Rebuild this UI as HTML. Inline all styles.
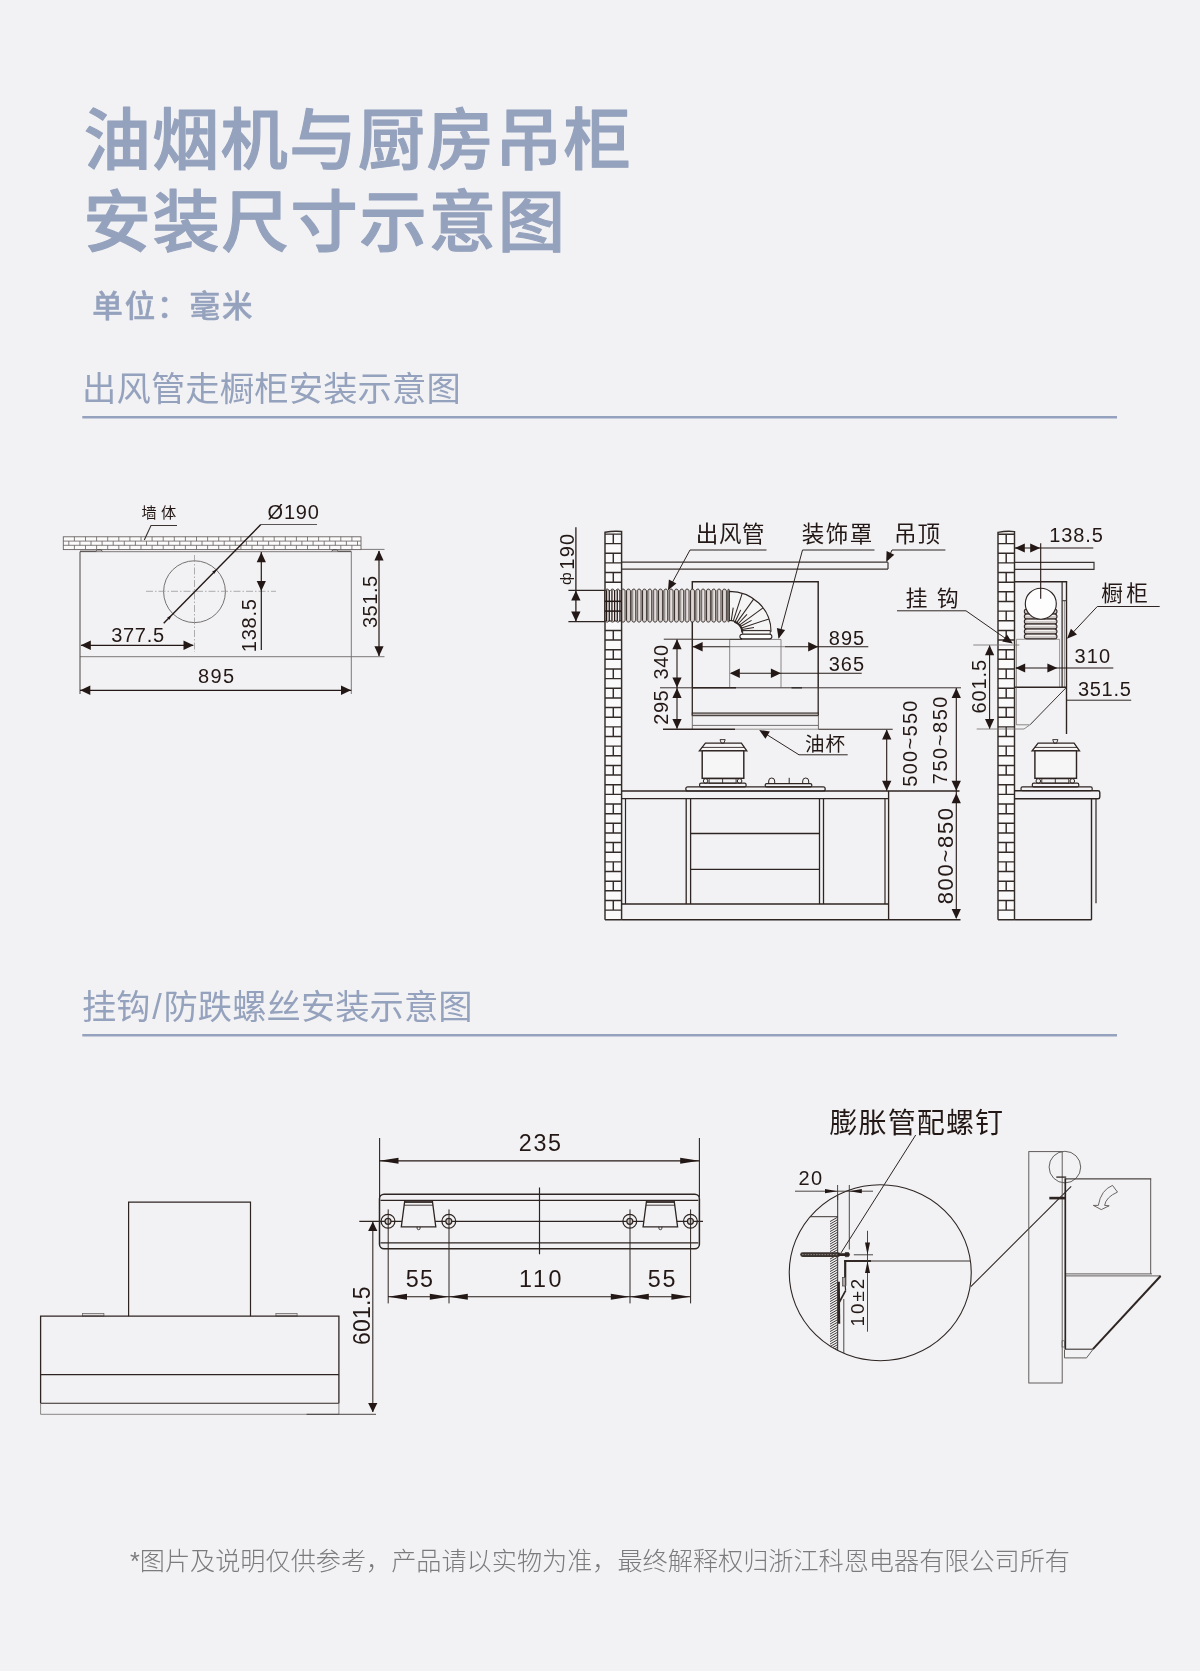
<!DOCTYPE html>
<html lang="zh-CN"><head><meta charset="utf-8"><title>油烟机与厨房吊柜安装尺寸示意图</title>
<style>
html,body{margin:0;padding:0;background:#f2f2f4;}
body{width:1200px;height:1671px;overflow:hidden;font-family:'Liberation Sans','Noto Sans CJK SC',sans-serif;}
svg{display:block;position:absolute;left:0;top:0;will-change:transform}
svg text{font-family:'Liberation Sans','Noto Sans CJK SC',sans-serif;}
</style></head><body>
<svg width="1200" height="1671" viewBox="0 0 1200 1671">
<rect x="0" y="0" width="1200" height="1671" fill="#f2f2f4"/>
<text x="83.4" y="163.7" font-size="67.3" text-anchor="start" fill="#95a2bd" font-weight="500" letter-spacing="1.3" stroke="#95a2bd" stroke-width="1.1" stroke-linejoin="round">油烟机与厨房吊柜</text>
<text x="83.4" y="246.3" font-size="67.3" text-anchor="start" fill="#95a2bd" font-weight="500" letter-spacing="1.75" stroke="#95a2bd" stroke-width="1.1" stroke-linejoin="round">安装尺寸示意图</text>
<text x="92.3" y="317.3" font-size="30.5" text-anchor="start" fill="#95a2bd" font-weight="500" letter-spacing="1.9" stroke="#95a2bd" stroke-width="0.5" stroke-linejoin="round">单位：毫米</text>
<text x="82.0" y="400.6" font-size="34.3" text-anchor="start" fill="#95a2bd" font-weight="400" letter-spacing="0.15">出风管走橱柜安装示意图</text>
<line x1="82.3" y1="417.2" x2="1117.0" y2="417.2" stroke="#95a2bd" stroke-width="2.5" />
<text x="82.0" y="1019.4" font-size="34.3" text-anchor="start" fill="#95a2bd" font-weight="400" letter-spacing="0.05">挂钩<tspan dx="1.6">/</tspan><tspan dx="1.6">防跌螺丝安装示意图</tspan></text>
<line x1="82.3" y1="1035.2" x2="1117.0" y2="1035.2" stroke="#95a2bd" stroke-width="2.5" />
<text x="600.0" y="1570.0" font-size="25.15" text-anchor="middle" fill="#7b7b7d" font-weight="300">*图片及说明仅供参考，产品请以实物为准，最终解释权归浙江科恩电器有限公司所有</text>
<rect x="63.3" y="536.8" width="297.7" height="12.8" rx="0" fill="#fbfbfb" stroke="#66605e" stroke-width="0.9"/>
<line x1="63.3" y1="541.1" x2="361.0" y2="541.1" stroke="#66605e" stroke-width="0.8" />
<line x1="63.3" y1="545.3" x2="361.0" y2="545.3" stroke="#66605e" stroke-width="0.8" />
<path d="M74.4 536.8v4.27M74.4 545.3v4.27M85.5 536.8v4.27M85.5 545.3v4.27M96.6 536.8v4.27M96.6 545.3v4.27M107.7 536.8v4.27M107.7 545.3v4.27M118.8 536.8v4.27M118.8 545.3v4.27M129.9 536.8v4.27M129.9 545.3v4.27M141.0 536.8v4.27M141.0 545.3v4.27M152.1 536.8v4.27M152.1 545.3v4.27M163.2 536.8v4.27M163.2 545.3v4.27M174.3 536.8v4.27M174.3 545.3v4.27M185.4 536.8v4.27M185.4 545.3v4.27M196.5 536.8v4.27M196.5 545.3v4.27M207.6 536.8v4.27M207.6 545.3v4.27M218.7 536.8v4.27M218.7 545.3v4.27M229.8 536.8v4.27M229.8 545.3v4.27M240.9 536.8v4.27M240.9 545.3v4.27M252.0 536.8v4.27M252.0 545.3v4.27M263.1 536.8v4.27M263.1 545.3v4.27M274.2 536.8v4.27M274.2 545.3v4.27M285.3 536.8v4.27M285.3 545.3v4.27M296.4 536.8v4.27M296.4 545.3v4.27M307.5 536.8v4.27M307.5 545.3v4.27M318.6 536.8v4.27M318.6 545.3v4.27M329.7 536.8v4.27M329.7 545.3v4.27M340.8 536.8v4.27M340.8 545.3v4.27M351.9 536.8v4.27M351.9 545.3v4.27M68.8 541.1v4.27M79.9 541.1v4.27M91.0 541.1v4.27M102.1 541.1v4.27M113.2 541.1v4.27M124.3 541.1v4.27M135.4 541.1v4.27M146.5 541.1v4.27M157.6 541.1v4.27M168.7 541.1v4.27M179.8 541.1v4.27M190.9 541.1v4.27M202.0 541.1v4.27M213.1 541.1v4.27M224.2 541.1v4.27M235.3 541.1v4.27M246.4 541.1v4.27M257.5 541.1v4.27M268.6 541.1v4.27M279.7 541.1v4.27M290.8 541.1v4.27M301.9 541.1v4.27M313.1 541.1v4.27M324.2 541.1v4.27M335.3 541.1v4.27M346.4 541.1v4.27M357.5 541.1v4.27" fill="none" stroke="#66605e" stroke-width="0.8" />
<text x="141.6" y="517.9" font-size="15.2" text-anchor="start" fill="#231815" font-weight="400" letter-spacing="4.2">墙体</text>
<path d="M177.0 525.5 L151.0 525.5 L144.3 540.0" fill="none" stroke="#3a3330" stroke-width="1.1" />
<line x1="80.0" y1="551.7" x2="351.3" y2="551.7" stroke="#6e6a69" stroke-width="0.9" />
<line x1="80.0" y1="656.7" x2="351.3" y2="656.7" stroke="#6e6a69" stroke-width="0.9" />
<line x1="80.0" y1="551.7" x2="80.0" y2="694.0" stroke="#4a4442" stroke-width="1.0" />
<line x1="351.3" y1="551.7" x2="351.3" y2="694.0" stroke="#6e6a69" stroke-width="0.9" />
<path d="M80.0 551.2 L96.0 551.2 L97.5 549.9 L101.0 549.9 L102.5 551.2" fill="none" stroke="#4a4442" stroke-width="1.0" />
<path d="M351.3 551.2 L338.0 551.2 L336.5 549.9 L333.0 549.9 L331.5 551.2" fill="none" stroke="#4a4442" stroke-width="1.0" />
<circle cx="194.5" cy="591.7" r="30.9" fill="none" stroke="#6e6a69" stroke-width="0.95"/>
<line x1="146.0" y1="591.3" x2="276.0" y2="591.3" stroke="#918d8c" stroke-width="0.7" stroke-dasharray="7 2 1.5 2"/>
<line x1="194.5" y1="555.0" x2="194.5" y2="652.0" stroke="#918d8c" stroke-width="0.7" stroke-dasharray="7 2 1.5 2"/>
<line x1="260.8" y1="524.5" x2="163.7" y2="623.2" stroke="#231815" stroke-width="1.4" />
<line x1="260.8" y1="524.5" x2="317.0" y2="524.5" stroke="#4a4442" stroke-width="0.9" />
<polygon points="216.6,569.4 214.5,573.8 212.2,571.5" fill="#231815"/>
<polygon points="171.6,615.3 169.5,619.7 167.2,617.4" fill="#231815"/>
<text x="267.6" y="519.2" font-size="20" text-anchor="start" fill="#231815" font-weight="400" letter-spacing="0.75">Ø190</text>
<line x1="261.3" y1="552.0" x2="261.3" y2="650.0" stroke="#231815" stroke-width="1.2" />
<polygon points="261.3,552.2 256.7,562.2 265.9,562.2" fill="#231815"/>
<polygon points="261.3,591.0 256.7,581.0 265.9,581.0" fill="#231815"/>
<text x="255.6" y="652.2" font-size="20" text-anchor="start" fill="#231815" font-weight="400" letter-spacing="0.75" transform="rotate(-90 255.6 652.2)">138.5</text>
<line x1="361.0" y1="549.4" x2="384.5" y2="549.4" stroke="#6e6a69" stroke-width="0.9" />
<line x1="351.3" y1="656.7" x2="384.5" y2="656.7" stroke="#6e6a69" stroke-width="0.9" />
<line x1="379.0" y1="551.0" x2="379.0" y2="656.0" stroke="#231815" stroke-width="1.2" />
<polygon points="379.0,550.6 374.4,560.6 383.6,560.6" fill="#231815"/>
<polygon points="379.0,656.3 374.4,646.3 383.6,646.3" fill="#231815"/>
<text x="376.7" y="628.1" font-size="20" text-anchor="start" fill="#231815" font-weight="400" letter-spacing="0.54" transform="rotate(-90 376.7 628.1)">351.5</text>
<line x1="81.0" y1="645.3" x2="193.3" y2="645.3" stroke="#231815" stroke-width="1.2" />
<polygon points="80.8,645.3 90.8,640.6 90.8,649.9" fill="#231815"/>
<polygon points="193.5,645.3 183.5,640.6 183.5,649.9" fill="#231815"/>
<text x="111.2" y="641.7" font-size="20" text-anchor="start" fill="#231815" font-weight="400" letter-spacing="0.71">377.5</text>
<line x1="80.0" y1="690.3" x2="351.3" y2="690.3" stroke="#231815" stroke-width="1.2" />
<polygon points="80.3,690.3 90.3,685.6 90.3,694.9" fill="#231815"/>
<polygon points="351.0,690.3 341.0,685.6 341.0,694.9" fill="#231815"/>
<text x="198.1" y="682.7" font-size="20" text-anchor="start" fill="#231815" font-weight="400" letter-spacing="1.27">895</text>
<rect x="605.0" y="531.5" width="16.6" height="388.2" fill="#fafafa" stroke="none"/>
<path d="M605.0 919.8V532.3Q613.3 530.7 621.6 531.5V919.8M605.0 534.1H621.6M605.0 543.60H621.6M605.0 553.25H621.6M605.0 562.89H621.6M605.0 572.53H621.6M605.0 582.18H621.6M605.0 591.82H621.6M605.0 601.47H621.6M605.0 611.11H621.6M605.0 620.76H621.6M605.0 630.40H621.6M605.0 640.05H621.6M605.0 649.69H621.6M605.0 659.34H621.6M605.0 668.98H621.6M605.0 678.63H621.6M605.0 688.27H621.6M605.0 697.92H621.6M605.0 707.56H621.6M605.0 717.21H621.6M605.0 726.85H621.6M605.0 736.50H621.6M605.0 746.14H621.6M605.0 755.79H621.6M605.0 765.43H621.6M605.0 775.08H621.6M605.0 784.72H621.6M605.0 794.37H621.6M605.0 804.01H621.6M605.0 813.66H621.6M605.0 823.30H621.6M605.0 832.95H621.6M605.0 842.59H621.6M605.0 852.24H621.6M605.0 861.88H621.6M605.0 871.53H621.6M605.0 881.17H621.6M605.0 890.82H621.6M605.0 900.46H621.6M605.0 910.11H621.6M613.3 534.1V543.60M613.3 553.25V562.89M613.3 572.53V582.18M613.3 591.82V601.47M613.3 611.11V620.76M613.3 630.40V640.05M613.3 649.69V659.34M613.3 668.98V678.63M613.3 688.27V697.92M613.3 707.56V717.21M613.3 726.85V736.50M613.3 746.14V755.79M613.3 765.43V775.08M613.3 784.72V794.37M613.3 804.01V813.66M613.3 823.30V832.95M613.3 842.59V852.24M613.3 861.88V871.53M613.3 881.17V890.82M613.3 900.46V910.11M605.0 919.8H621.6" fill="none" stroke="#332b28" stroke-width="1.45" />
<line x1="621.6" y1="562.2" x2="888.0" y2="562.2" stroke="#3a3330" stroke-width="1.2" />
<line x1="621.6" y1="569.1" x2="888.0" y2="569.1" stroke="#3a3330" stroke-width="1.2" />
<line x1="888.0" y1="562.2" x2="888.0" y2="569.1" stroke="#3a3330" stroke-width="1.2" />
<path d="M692.3 687.8 L692.3 581.8 L818.2 581.8 L818.2 687.8" fill="none" stroke="#2e2522" stroke-width="1.45" />
<path d="M729.7 687.5 L729.7 639.4 L781.0 639.4 L781.0 687.5" fill="none" stroke="#6e6a69" stroke-width="0.8" />
<line x1="692.3" y1="639.3" x2="742.0" y2="639.3" stroke="#3a3330" stroke-width="1.0" />
<rect x="605.0" y="590.9" width="124.3" height="29.4" fill="#fbfbfb" stroke="none"/>
<path d="M605.20 620.3V590.9C605.50 588.5 608.80 588.5 609.10 590.9V620.3C608.80 622.7 605.50 622.7 605.20 620.3ZM610.53 620.3V590.9C610.83 588.5 614.13 588.5 614.43 590.9V620.3C614.13 622.7 610.83 622.7 610.53 620.3ZM615.86 620.3V590.9C616.16 588.5 619.46 588.5 619.76 590.9V620.3C619.46 622.7 616.16 622.7 615.86 620.3ZM621.19 620.3V590.9C621.49 588.5 624.79 588.5 625.09 590.9V620.3C624.79 622.7 621.49 622.7 621.19 620.3ZM626.52 620.3V590.9C626.82 588.5 630.12 588.5 630.42 590.9V620.3C630.12 622.7 626.82 622.7 626.52 620.3ZM631.85 620.3V590.9C632.15 588.5 635.45 588.5 635.75 590.9V620.3C635.45 622.7 632.15 622.7 631.85 620.3ZM637.18 620.3V590.9C637.48 588.5 640.78 588.5 641.08 590.9V620.3C640.78 622.7 637.48 622.7 637.18 620.3ZM642.51 620.3V590.9C642.81 588.5 646.11 588.5 646.41 590.9V620.3C646.11 622.7 642.81 622.7 642.51 620.3ZM647.84 620.3V590.9C648.14 588.5 651.44 588.5 651.74 590.9V620.3C651.44 622.7 648.14 622.7 647.84 620.3ZM653.17 620.3V590.9C653.47 588.5 656.77 588.5 657.07 590.9V620.3C656.77 622.7 653.47 622.7 653.17 620.3ZM658.50 620.3V590.9C658.80 588.5 662.10 588.5 662.40 590.9V620.3C662.10 622.7 658.80 622.7 658.50 620.3ZM663.83 620.3V590.9C664.13 588.5 667.43 588.5 667.73 590.9V620.3C667.43 622.7 664.13 622.7 663.83 620.3ZM669.16 620.3V590.9C669.46 588.5 672.76 588.5 673.06 590.9V620.3C672.76 622.7 669.46 622.7 669.16 620.3ZM674.49 620.3V590.9C674.79 588.5 678.09 588.5 678.39 590.9V620.3C678.09 622.7 674.79 622.7 674.49 620.3ZM679.82 620.3V590.9C680.12 588.5 683.42 588.5 683.72 590.9V620.3C683.42 622.7 680.12 622.7 679.82 620.3ZM685.15 620.3V590.9C685.45 588.5 688.75 588.5 689.05 590.9V620.3C688.75 622.7 685.45 622.7 685.15 620.3ZM690.48 620.3V590.9C690.78 588.5 694.08 588.5 694.38 590.9V620.3C694.08 622.7 690.78 622.7 690.48 620.3ZM695.81 620.3V590.9C696.11 588.5 699.41 588.5 699.71 590.9V620.3C699.41 622.7 696.11 622.7 695.81 620.3ZM701.14 620.3V590.9C701.44 588.5 704.74 588.5 705.04 590.9V620.3C704.74 622.7 701.44 622.7 701.14 620.3ZM706.47 620.3V590.9C706.77 588.5 710.07 588.5 710.37 590.9V620.3C710.07 622.7 706.77 622.7 706.47 620.3ZM711.80 620.3V590.9C712.10 588.5 715.40 588.5 715.70 590.9V620.3C715.40 622.7 712.10 622.7 711.80 620.3ZM717.13 620.3V590.9C717.43 588.5 720.73 588.5 721.03 590.9V620.3C720.73 622.7 717.43 622.7 717.13 620.3ZM722.46 620.3V590.9C722.76 588.5 726.06 588.5 726.36 590.9V620.3C726.06 622.7 722.76 622.7 722.46 620.3ZM727.79 620.3V590.9C728.09 588.5 729.00 588.5 729.30 590.9V620.3C729.00 622.7 728.09 622.7 727.79 620.3Z" fill="#cdc6c4" stroke="#332a27" stroke-width="0.95" />
<path d="M607.75 590.7V620.5M613.08 590.7V620.5M618.41 590.7V620.5M623.74 590.7V620.5M629.07 590.7V620.5M634.40 590.7V620.5M639.73 590.7V620.5M645.06 590.7V620.5M650.39 590.7V620.5M655.72 590.7V620.5M661.05 590.7V620.5M666.38 590.7V620.5M671.71 590.7V620.5M677.04 590.7V620.5M682.37 590.7V620.5M687.70 590.7V620.5M693.03 590.7V620.5M698.36 590.7V620.5M703.69 590.7V620.5M709.02 590.7V620.5M714.35 590.7V620.5M719.68 590.7V620.5M725.01 590.7V620.5M730.34 590.7V620.5" fill="none" stroke="#f4f2f2" stroke-width="0.75" />
<rect x="605.0" y="590.9" width="16.6" height="29.4" fill="#f3f1f1" stroke="none"/>
<path d="M606.60 590.3V620.9M609.27 590.3V620.9M611.94 590.3V620.9M614.61 590.3V620.9M617.28 590.3V620.9M619.95 590.3V620.9" fill="none" stroke="#231815" stroke-width="1.25" />
<line x1="605.0" y1="601.3" x2="621.6" y2="601.3" stroke="#231815" stroke-width="1.5" />
<line x1="605.0" y1="611.1" x2="621.6" y2="611.1" stroke="#231815" stroke-width="1.5" />
<line x1="605.0" y1="589.9" x2="605.0" y2="621.3" stroke="#2e2522" stroke-width="1.3" />
<line x1="621.6" y1="589.9" x2="621.6" y2="621.3" stroke="#2e2522" stroke-width="1.3" />
<path d="M729.3 591.3A41.7 40.0 0 0 1 771.0 631.3L742.3 632.3A13.0 12.0 0 0 0 729.3 620.3Z" fill="#f6f5f5" stroke="#2e2522" stroke-width="1.15"/>
<path d="M742.3 632.3A13.0 12.0 0 0 0 734.3 621.6" fill="none" stroke="#2e2522" stroke-width="1.9"/>
<line x1="742.1" y1="629.6" x2="754.0" y2="627.5" stroke="#2e2522" stroke-width="1.05" />
<line x1="741.7" y1="627.9" x2="769.0" y2="618.9" stroke="#2e2522" stroke-width="1.05" />
<line x1="740.9" y1="626.3" x2="751.6" y2="620.4" stroke="#2e2522" stroke-width="1.05" />
<line x1="739.8" y1="624.8" x2="763.0" y2="607.8" stroke="#2e2522" stroke-width="1.05" />
<line x1="738.5" y1="623.5" x2="747.0" y2="614.3" stroke="#2e2522" stroke-width="1.05" />
<line x1="736.9" y1="622.4" x2="753.8" y2="598.9" stroke="#2e2522" stroke-width="1.05" />
<line x1="735.2" y1="621.5" x2="740.7" y2="609.9" stroke="#2e2522" stroke-width="1.05" />
<line x1="733.3" y1="620.8" x2="742.2" y2="593.3" stroke="#2e2522" stroke-width="1.05" />
<line x1="731.3" y1="620.4" x2="733.2" y2="607.6" stroke="#2e2522" stroke-width="1.05" />
<line x1="742.7" y1="630.7" x2="770.2" y2="630.7" stroke="#2e2522" stroke-width="1.5" />
<rect x="742.7" y="630.7" width="27.5" height="3.5" rx="0" fill="#fbfbfb" stroke="#2e2522" stroke-width="0.9"/>
<rect x="739.9" y="634.2" width="32.0" height="4.7" rx="2.4" fill="#fdfdfd" stroke="#2e2522" stroke-width="1.1"/>
<line x1="660.0" y1="687.8" x2="961.0" y2="687.8" stroke="#3a3330" stroke-width="1.0" />
<line x1="692.3" y1="687.8" x2="736.0" y2="687.8" stroke="#2e2522" stroke-width="1.5" />
<line x1="791.5" y1="687.8" x2="802.0" y2="687.8" stroke="#2e2522" stroke-width="1.3" />
<line x1="692.3" y1="687.8" x2="692.3" y2="715.5" stroke="#2e2522" stroke-width="1.3" />
<line x1="818.2" y1="687.8" x2="818.2" y2="715.5" stroke="#2e2522" stroke-width="1.3" />
<rect x="692.3" y="713.0" width="125.9" height="2.7" rx="0" fill="#b4afad" stroke="#2e2522" stroke-width="1.0"/>
<line x1="692.3" y1="715.6" x2="692.3" y2="729.0" stroke="#6b6665" stroke-width="0.95" />
<line x1="818.4" y1="715.6" x2="818.4" y2="729.0" stroke="#6b6665" stroke-width="0.95" />
<line x1="692.3" y1="725.4" x2="818.4" y2="725.4" stroke="#6b6665" stroke-width="0.95" />
<line x1="735.0" y1="729.2" x2="818.4" y2="729.2" stroke="#8c8887" stroke-width="0.9" />
<line x1="818.4" y1="729.2" x2="892.7" y2="729.2" stroke="#2e2522" stroke-width="1.05" />
<line x1="663.0" y1="729.2" x2="735.0" y2="729.2" stroke="#2e2522" stroke-width="1.5" />
<line x1="692.5" y1="646.7" x2="729.7" y2="646.7" stroke="#231815" stroke-width="1.1" />
<line x1="729.7" y1="646.7" x2="785.0" y2="646.7" stroke="#6e6a69" stroke-width="0.8" />
<line x1="785.0" y1="646.7" x2="868.3" y2="646.7" stroke="#231815" stroke-width="1.1" />
<polygon points="692.6,646.7 702.6,642.1 702.6,651.4" fill="#231815"/>
<polygon points="818.2,646.7 808.2,642.1 808.2,651.4" fill="#231815"/>
<text x="828.8" y="644.5" font-size="20" text-anchor="start" fill="#231815" font-weight="400" letter-spacing="0.97">895</text>
<line x1="731.0" y1="673.3" x2="861.7" y2="673.3" stroke="#231815" stroke-width="1.1" />
<polygon points="729.8,673.3 739.8,668.6 739.8,677.9" fill="#231815"/>
<polygon points="780.9,673.3 770.9,668.6 770.9,677.9" fill="#231815"/>
<text x="828.8" y="671.3" font-size="20" text-anchor="start" fill="#231815" font-weight="400" letter-spacing="0.92">365</text>
<text x="571.2" y="584.9" font-size="15.5" text-anchor="start" fill="#231815" font-weight="400" transform="rotate(-90 571.2 584.9)">ф</text>
<text x="573.7" y="569.7" font-size="20" text-anchor="start" fill="#231815" font-weight="400" letter-spacing="1.22" transform="rotate(-90 573.7 569.7)">190</text>
<line x1="575.9" y1="527.2" x2="575.9" y2="621.5" stroke="#231815" stroke-width="1.25" />
<line x1="568.4" y1="590.3" x2="605.0" y2="590.3" stroke="#2e2522" stroke-width="1.3" />
<line x1="568.4" y1="621.6" x2="605.0" y2="621.6" stroke="#2e2522" stroke-width="1.3" />
<polygon points="575.9,590.4 571.2,600.4 580.5,600.4" fill="#231815"/>
<polygon points="575.9,621.4 571.2,611.4 580.5,611.4" fill="#231815"/>
<line x1="663.8" y1="639.2" x2="692.3" y2="639.2" stroke="#3a3330" stroke-width="1.0" />
<line x1="677.0" y1="639.5" x2="677.0" y2="728.5" stroke="#231815" stroke-width="1.1" />
<polygon points="677.0,639.3 672.4,649.3 681.6,649.3" fill="#231815"/>
<polygon points="677.0,687.5 672.4,677.5 681.6,677.5" fill="#231815"/>
<polygon points="677.0,688.0 672.4,698.0 681.6,698.0" fill="#231815"/>
<polygon points="677.0,728.9 672.4,718.9 681.6,718.9" fill="#231815"/>
<text x="667.8" y="679.4" font-size="20" text-anchor="start" fill="#231815" font-weight="400" letter-spacing="0.54" transform="rotate(-90 667.8 679.4)">340</text>
<text x="667.8" y="724.7" font-size="20" text-anchor="start" fill="#231815" font-weight="400" letter-spacing="0.54" transform="rotate(-90 667.8 724.7)">295</text>
<text x="695.8" y="541.8" font-size="22.5" text-anchor="start" fill="#231815" font-weight="400" letter-spacing="0.6">出风管</text>
<path d="M766.5 550.0 L690.0 550.0 L668.5 589.5" fill="none" stroke="#2e2522" stroke-width="1.0" />
<polygon points="668.0,590.3 668.9,579.5 676.4,583.4" fill="#231815"/>
<text x="801.8" y="541.8" font-size="22.5" text-anchor="start" fill="#231815" font-weight="400" letter-spacing="1.5">装饰罩</text>
<path d="M874.5 550.0 L802.5 550.0 L778.9 637.5" fill="none" stroke="#2e2522" stroke-width="1.0" />
<polygon points="778.6,638.8 776.9,628.1 785.1,630.1" fill="#231815"/>
<text x="894.0" y="541.8" font-size="22.5" text-anchor="start" fill="#231815" font-weight="400" letter-spacing="0.9">吊顶</text>
<path d="M945.4 550.0 L892.0 550.0 L887.5 560.0" fill="none" stroke="#2e2522" stroke-width="1.0" />
<polygon points="886.2,561.9 886.6,551.0 894.3,554.7" fill="#231815"/>
<text x="804.9" y="751.2" font-size="19.5" text-anchor="start" fill="#231815" font-weight="400" letter-spacing="1.2">油杯</text>
<path d="M847.7 754.8 L799.0 754.8 L762.0 731.6" fill="none" stroke="#2e2522" stroke-width="1.0" />
<polygon points="759.2,729.9 769.9,731.6 765.4,738.8" fill="#231815"/>
<path d="M705.4 743.2 L741.4 743.2 L746.8 750.8 L699.4 750.8 Z" fill="#f7f6f6" stroke="#2e2522" stroke-width="1.3" />
<line x1="701.8" y1="747.4" x2="744.4" y2="747.4" stroke="#2e2522" stroke-width="0.9" />
<path d="M720.0 739.6 L725.2 739.6 L723.9 743.2 L721.3 743.2 Z" fill="none" stroke="#2e2522" stroke-width="0.9" />
<rect x="702.2" y="750.8" width="41.6" height="27.5" rx="0" fill="#f7f6f6" stroke="#2e2522" stroke-width="1.45"/>
<circle cx="705.6" cy="781.0" r="2.3" fill="none" stroke="#2e2522" stroke-width="1.0"/>
<circle cx="739.6" cy="781.0" r="2.3" fill="none" stroke="#2e2522" stroke-width="1.0"/>
<rect x="709.1" y="778.8" width="27.0" height="4.4" rx="0" fill="none" stroke="#2e2522" stroke-width="0.9"/>
<line x1="722.6" y1="778.8" x2="722.6" y2="783.2" stroke="#2e2522" stroke-width="0.9" />
<rect x="699.6" y="783.2" width="46.5" height="3.7" rx="1.5" fill="none" stroke="#2e2522" stroke-width="1.2"/>
<rect x="765.2" y="783.6" width="46.6" height="3.3" rx="1.5" fill="none" stroke="#2e2522" stroke-width="1.2"/>
<path d="M768.7 783.6v-2.6a3 3 0 0 1 6 0v2.6" fill="none" stroke="#2e2522" stroke-width="1.0" />
<path d="M802.7 783.6v-2.6a3 3 0 0 1 6 0v2.6" fill="none" stroke="#2e2522" stroke-width="1.0" />
<line x1="789.2" y1="777.8" x2="789.2" y2="783.6" stroke="#2e2522" stroke-width="1.0" />
<rect x="685.8" y="786.9" width="139.4" height="4.1" rx="2" fill="none" stroke="#2e2522" stroke-width="1.2"/>
<line x1="621.6" y1="791.0" x2="959.5" y2="791.0" stroke="#2e2522" stroke-width="1.35" />
<line x1="621.6" y1="798.6" x2="888.5" y2="798.6" stroke="#2e2522" stroke-width="1.45" />
<line x1="888.6" y1="791.0" x2="888.6" y2="919.8" stroke="#2e2522" stroke-width="1.35" />
<line x1="885.0" y1="798.6" x2="885.0" y2="904.0" stroke="#2e2522" stroke-width="1.2" />
<line x1="625.5" y1="798.6" x2="625.5" y2="904.0" stroke="#2e2522" stroke-width="1.2" />
<line x1="686.2" y1="798.6" x2="686.2" y2="904.0" stroke="#2e2522" stroke-width="1.3" />
<line x1="690.6" y1="798.6" x2="690.6" y2="904.0" stroke="#2e2522" stroke-width="1.3" />
<line x1="819.5" y1="798.6" x2="819.5" y2="904.0" stroke="#2e2522" stroke-width="1.3" />
<line x1="823.5" y1="798.6" x2="823.5" y2="904.0" stroke="#2e2522" stroke-width="1.3" />
<line x1="690.6" y1="833.5" x2="819.5" y2="833.5" stroke="#2e2522" stroke-width="1.3" />
<line x1="690.6" y1="869.4" x2="819.5" y2="869.4" stroke="#2e2522" stroke-width="1.3" />
<line x1="621.6" y1="904.0" x2="888.6" y2="904.0" stroke="#2e2522" stroke-width="1.45" />
<line x1="621.6" y1="919.8" x2="960.5" y2="919.8" stroke="#2e2522" stroke-width="1.45" />
<line x1="886.7" y1="730.0" x2="886.7" y2="790.5" stroke="#231815" stroke-width="1.1" />
<polygon points="886.7,729.5 882.1,739.5 891.4,739.5" fill="#231815"/>
<polygon points="886.7,790.7 882.1,780.7 891.4,780.7" fill="#231815"/>
<text x="917.3" y="786.8" font-size="20" text-anchor="start" fill="#231815" font-weight="400" letter-spacing="1.31" transform="rotate(-90 917.3 786.8)">500~550</text>
<line x1="956.3" y1="688.0" x2="956.3" y2="918.0" stroke="#231815" stroke-width="1.1" />
<polygon points="956.3,688.0 951.6,698.0 960.9,698.0" fill="#231815"/>
<polygon points="956.3,790.8 951.6,780.8 960.9,780.8" fill="#231815"/>
<polygon points="956.3,793.2 951.6,803.2 960.9,803.2" fill="#231815"/>
<polygon points="956.3,919.0 951.6,909.0 960.9,909.0" fill="#231815"/>
<text x="947.3" y="784.3" font-size="20" text-anchor="start" fill="#231815" font-weight="400" letter-spacing="1.56" transform="rotate(-90 947.3 784.3)">750~850</text>
<text x="953.3" y="904.3" font-size="22" text-anchor="start" fill="#231815" font-weight="400" letter-spacing="1.69" transform="rotate(-90 953.3 904.3)">800~850</text>
<rect x="998.0" y="531.6" width="16.5" height="388.1" fill="#fafafa" stroke="none"/>
<path d="M998.0 919.8V532.4Q1006.2 530.8 1014.5 531.6V919.8M998.0 534.2H1014.5M998.0 543.60H1014.5M998.0 553.25H1014.5M998.0 562.89H1014.5M998.0 572.53H1014.5M998.0 582.18H1014.5M998.0 591.82H1014.5M998.0 601.47H1014.5M998.0 611.11H1014.5M998.0 620.76H1014.5M998.0 630.40H1014.5M998.0 640.05H1014.5M998.0 649.69H1014.5M998.0 659.34H1014.5M998.0 668.98H1014.5M998.0 678.63H1014.5M998.0 688.27H1014.5M998.0 697.92H1014.5M998.0 707.56H1014.5M998.0 717.21H1014.5M998.0 726.85H1014.5M998.0 736.50H1014.5M998.0 746.14H1014.5M998.0 755.79H1014.5M998.0 765.43H1014.5M998.0 775.08H1014.5M998.0 784.72H1014.5M998.0 794.37H1014.5M998.0 804.01H1014.5M998.0 813.66H1014.5M998.0 823.30H1014.5M998.0 832.95H1014.5M998.0 842.59H1014.5M998.0 852.24H1014.5M998.0 861.88H1014.5M998.0 871.53H1014.5M998.0 881.17H1014.5M998.0 890.82H1014.5M998.0 900.46H1014.5M998.0 910.11H1014.5M1006.2 534.2V543.60M1006.2 553.25V562.89M1006.2 572.53V582.18M1006.2 591.82V601.47M1006.2 611.11V620.76M1006.2 630.40V640.05M1006.2 649.69V659.34M1006.2 668.98V678.63M1006.2 688.27V697.92M1006.2 707.56V717.21M1006.2 726.85V736.50M1006.2 746.14V755.79M1006.2 765.43V775.08M1006.2 784.72V794.37M1006.2 804.01V813.66M1006.2 823.30V832.95M1006.2 842.59V852.24M1006.2 861.88V871.53M1006.2 881.17V890.82M1006.2 900.46V910.11M998.0 919.8H1014.5" fill="none" stroke="#332b28" stroke-width="1.45" />
<path d="M1014.5 562.4 L1094.0 562.4 L1094.0 569.3 L1014.5 569.3" fill="none" stroke="#3a3330" stroke-width="1.2" />
<line x1="1014.5" y1="581.7" x2="1067.2" y2="581.7" stroke="#2e2522" stroke-width="1.5" />
<line x1="1066.5" y1="581.7" x2="1066.5" y2="734.0" stroke="#2e2522" stroke-width="1.4" />
<line x1="1062.1" y1="581.7" x2="1062.1" y2="687.3" stroke="#2e2522" stroke-width="1.2" />
<line x1="1064.4" y1="600.7" x2="1064.4" y2="687.3" stroke="#6e6a69" stroke-width="0.7" />
<line x1="1062.1" y1="600.7" x2="1066.5" y2="600.7" stroke="#3a3330" stroke-width="1.0" />
<rect x="1024.3" y="609.0" width="32.7" height="5.0" rx="2.5" fill="#cdc7c5" stroke="#2e2522" stroke-width="1.05"/>
<line x1="1026.4" y1="610.6" x2="1055.0" y2="610.6" stroke="#f7f6f6" stroke-width="1.1" />
<rect x="1024.3" y="614.0" width="32.7" height="5.0" rx="2.5" fill="#cdc7c5" stroke="#2e2522" stroke-width="1.05"/>
<line x1="1026.4" y1="615.6" x2="1055.0" y2="615.6" stroke="#f7f6f6" stroke-width="1.1" />
<rect x="1024.3" y="619.0" width="32.7" height="5.0" rx="2.5" fill="#cdc7c5" stroke="#2e2522" stroke-width="1.05"/>
<line x1="1026.4" y1="620.6" x2="1055.0" y2="620.6" stroke="#f7f6f6" stroke-width="1.1" />
<rect x="1024.3" y="624.0" width="32.7" height="5.0" rx="2.5" fill="#cdc7c5" stroke="#2e2522" stroke-width="1.05"/>
<line x1="1026.4" y1="625.6" x2="1055.0" y2="625.6" stroke="#f7f6f6" stroke-width="1.1" />
<rect x="1024.3" y="629.0" width="32.7" height="5.0" rx="2.5" fill="#cdc7c5" stroke="#2e2522" stroke-width="1.05"/>
<line x1="1026.4" y1="630.6" x2="1055.0" y2="630.6" stroke="#f7f6f6" stroke-width="1.1" />
<rect x="1024.3" y="634.0" width="32.7" height="5.0" rx="2.5" fill="#cdc7c5" stroke="#2e2522" stroke-width="1.05"/>
<line x1="1026.4" y1="635.6" x2="1055.0" y2="635.6" stroke="#f7f6f6" stroke-width="1.1" />
<line x1="1026.0" y1="638.9" x2="1055.5" y2="638.9" stroke="#2e2522" stroke-width="1.1" />
<circle cx="1040.8" cy="603.7" r="15.5" fill="#fdfdfd" stroke="#2e2522" stroke-width="1.15"/>
<path d="M1016.5 687.0 L1016.5 639.3 L1059.6 639.3 L1059.6 687.0" fill="none" stroke="#8f8b8a" stroke-width="0.9" />
<line x1="1015.0" y1="548.0" x2="1093.3" y2="548.0" stroke="#231815" stroke-width="1.1" />
<polygon points="1014.8,548.0 1024.8,543.4 1024.8,552.6" fill="#231815"/>
<polygon points="1040.2,548.0 1030.2,543.4 1030.2,552.6" fill="#231815"/>
<line x1="1040.7" y1="543.3" x2="1040.7" y2="598.7" stroke="#231815" stroke-width="1.1" />
<text x="1049.3" y="542.4" font-size="20" text-anchor="start" fill="#231815" font-weight="400" letter-spacing="0.9">138.5</text>
<line x1="1014.5" y1="687.3" x2="1066.7" y2="687.3" stroke="#2e2522" stroke-width="1.4" />
<line x1="1066.3" y1="687.5" x2="1030.0" y2="724.8" stroke="#3a3330" stroke-width="1.0" />
<line x1="1016.3" y1="687.3" x2="1016.3" y2="724.8" stroke="#6e6a69" stroke-width="0.8" />
<line x1="1016.3" y1="724.8" x2="1029.0" y2="724.8" stroke="#6e6a69" stroke-width="0.8" />
<path d="M976.7 729.0 L1024.0 729.0 L1030.0 724.8" fill="none" stroke="#6e6a69" stroke-width="0.8" />
<line x1="1016.0" y1="668.0" x2="1113.3" y2="668.0" stroke="#231815" stroke-width="1.1" />
<polygon points="1015.2,668.0 1025.2,663.4 1025.2,672.6" fill="#231815"/>
<polygon points="1057.4,668.0 1047.4,663.4 1047.4,672.6" fill="#231815"/>
<text x="1074.4" y="663.2" font-size="20" text-anchor="start" fill="#231815" font-weight="400" letter-spacing="1.19">310</text>
<line x1="1066.7" y1="700.2" x2="1131.2" y2="700.2" stroke="#2e2522" stroke-width="1.0" />
<text x="1077.9" y="696.0" font-size="20" text-anchor="start" fill="#231815" font-weight="400" letter-spacing="0.71">351.5</text>
<line x1="973.3" y1="645.0" x2="1019.3" y2="645.0" stroke="#6e6a69" stroke-width="0.8" />
<line x1="989.6" y1="645.5" x2="989.6" y2="728.5" stroke="#231815" stroke-width="1.1" />
<polygon points="989.6,645.2 985.0,655.2 994.2,655.2" fill="#231815"/>
<polygon points="989.6,729.0 985.0,719.0 994.2,719.0" fill="#231815"/>
<text x="985.7" y="713.5" font-size="20" text-anchor="start" fill="#231815" font-weight="400" letter-spacing="0.9" transform="rotate(-90 985.7 713.5)">601.5</text>
<text x="905.6" y="605.5" font-size="22" text-anchor="start" fill="#231815" font-weight="400" letter-spacing="9.2">挂钩</text>
<path d="M897.0 610.8 L966.0 610.8 L1011.5 642.6" fill="none" stroke="#2e2522" stroke-width="1.0" />
<polygon points="1012.8,643.6 1002.2,641.4 1007.0,634.4" fill="#231815"/>
<text x="1101.3" y="600.9" font-size="21.6" text-anchor="start" fill="#231815" font-weight="400" letter-spacing="3.3">橱柜</text>
<path d="M1159.7 606.5 L1097.3 606.5 L1068.2 637.5" fill="none" stroke="#2e2522" stroke-width="1.0" />
<polygon points="1067.0,638.8 1070.9,628.7 1077.0,634.6" fill="#231815"/>
<path d="M1038.1 743.2 L1074.1 743.2 L1079.5 750.8 L1032.1 750.8 Z" fill="#f7f6f6" stroke="#2e2522" stroke-width="1.3" />
<line x1="1034.5" y1="747.4" x2="1077.1" y2="747.4" stroke="#2e2522" stroke-width="0.9" />
<path d="M1052.7 739.6 L1057.9 739.6 L1056.6 743.2 L1054.0 743.2 Z" fill="none" stroke="#2e2522" stroke-width="0.9" />
<rect x="1034.9" y="750.8" width="41.6" height="27.5" rx="0" fill="#f7f6f6" stroke="#2e2522" stroke-width="1.45"/>
<circle cx="1038.3" cy="781.0" r="2.3" fill="none" stroke="#2e2522" stroke-width="1.0"/>
<circle cx="1072.3" cy="781.0" r="2.3" fill="none" stroke="#2e2522" stroke-width="1.0"/>
<rect x="1041.8" y="778.8" width="27.0" height="4.4" rx="0" fill="none" stroke="#2e2522" stroke-width="0.9"/>
<line x1="1055.3" y1="778.8" x2="1055.3" y2="783.2" stroke="#2e2522" stroke-width="0.9" />
<rect x="1032.3" y="783.2" width="46.5" height="3.7" rx="1.5" fill="none" stroke="#2e2522" stroke-width="1.2"/>
<rect x="1021.0" y="786.9" width="71.2" height="3.8" rx="1.5" fill="none" stroke="#2e2522" stroke-width="1.2"/>
<path d="M1014.5 790.7H1098a1.8 1.8 0 0 1 1.8 1.8V797a1.8 1.8 0 0 1 -1.8 1.8H1014.5" fill="none" stroke="#2e2522" stroke-width="1.4" />
<line x1="1091.5" y1="798.8" x2="1091.5" y2="919.8" stroke="#2e2522" stroke-width="1.4" />
<line x1="1096.0" y1="798.8" x2="1096.0" y2="903.3" stroke="#2e2522" stroke-width="1.2" />
<line x1="1014.5" y1="919.8" x2="1091.5" y2="919.8" stroke="#2e2522" stroke-width="1.45" />
<path d="M128.6 1316.2 L128.6 1202.2 L250.5 1202.2 L250.5 1316.2" fill="none" stroke="#2e2522" stroke-width="1.2" />
<rect x="82.4" y="1313.6" width="21.5" height="2.4" rx="0" fill="#dcdcdc" stroke="#6e6a69" stroke-width="0.8"/>
<rect x="275.9" y="1313.6" width="21.2" height="2.4" rx="0" fill="#dcdcdc" stroke="#6e6a69" stroke-width="0.8"/>
<path d="M40.6 1403.2 L40.6 1316.2 L338.9 1316.2 L338.9 1403.2" fill="none" stroke="#2e2522" stroke-width="1.3" />
<line x1="40.6" y1="1374.7" x2="338.9" y2="1374.7" stroke="#2e2522" stroke-width="1.3" />
<line x1="40.6" y1="1403.2" x2="338.9" y2="1403.2" stroke="#2e2522" stroke-width="1.1" />
<path d="M40.6 1403.2 L40.6 1414.3 L338.9 1414.3 L338.9 1403.2" fill="none" stroke="#6e6a69" stroke-width="0.8" />
<line x1="306.6" y1="1414.3" x2="376.0" y2="1414.3" stroke="#3a3330" stroke-width="0.9" />
<line x1="372.8" y1="1222.0" x2="372.8" y2="1412.0" stroke="#3a3330" stroke-width="1.15" />
<polygon points="372.8,1221.7 368.1,1230.9 377.4,1230.9" fill="#231815"/>
<polygon points="372.8,1412.3 368.1,1403.1 377.4,1403.1" fill="#231815"/>
<text x="370.0" y="1345.0" font-size="23" text-anchor="start" fill="#231815" font-weight="400" letter-spacing="0.24" transform="rotate(-90 370.0 1345.0)">601.5</text>
<rect x="379.5" y="1194.2" width="319.9" height="54.5" rx="4.5" fill="none" stroke="#2e2522" stroke-width="1.5"/>
<line x1="380.5" y1="1200.3" x2="698.3" y2="1200.3" stroke="#2e2522" stroke-width="1.2" />
<line x1="380.5" y1="1242.9" x2="698.3" y2="1242.9" stroke="#2e2522" stroke-width="1.2" />
<line x1="379.6" y1="1137.9" x2="379.6" y2="1197.0" stroke="#2e2522" stroke-width="1.1" />
<line x1="699.4" y1="1137.9" x2="699.4" y2="1197.0" stroke="#2e2522" stroke-width="1.1" />
<line x1="379.5" y1="1160.8" x2="699.2" y2="1160.8" stroke="#231815" stroke-width="1.15" />
<polygon points="379.5,1160.7 398.5,1157.7 398.5,1163.7" fill="#231815"/>
<polygon points="699.2,1160.7 680.2,1157.7 680.2,1163.7" fill="#231815"/>
<text x="518.8" y="1150.8" font-size="23.3" text-anchor="start" fill="#231815" font-weight="400" letter-spacing="1.64">235</text>
<line x1="359.3" y1="1221.3" x2="703.0" y2="1221.3" stroke="#2e2522" stroke-width="1.2" />
<line x1="539.5" y1="1187.5" x2="539.5" y2="1254.3" stroke="#2e2522" stroke-width="1.2" />
<circle cx="388.0" cy="1221.3" r="6.9" fill="none" stroke="#2e2522" stroke-width="1.25"/>
<circle cx="388.0" cy="1221.3" r="3.0" fill="#c9c5c3" stroke="#2e2522" stroke-width="1.2"/>
<line x1="388.2" y1="1209.4" x2="388.2" y2="1303.4" stroke="#2e2522" stroke-width="1.0" />
<circle cx="448.8" cy="1221.3" r="6.9" fill="none" stroke="#2e2522" stroke-width="1.25"/>
<circle cx="448.8" cy="1221.3" r="3.0" fill="#c9c5c3" stroke="#2e2522" stroke-width="1.2"/>
<line x1="449.0" y1="1209.4" x2="449.0" y2="1303.4" stroke="#2e2522" stroke-width="1.0" />
<circle cx="629.8" cy="1221.3" r="6.9" fill="none" stroke="#2e2522" stroke-width="1.25"/>
<circle cx="629.8" cy="1221.3" r="3.0" fill="#c9c5c3" stroke="#2e2522" stroke-width="1.2"/>
<line x1="630.0" y1="1209.4" x2="630.0" y2="1303.4" stroke="#2e2522" stroke-width="1.0" />
<circle cx="690.4" cy="1221.3" r="6.9" fill="none" stroke="#2e2522" stroke-width="1.25"/>
<circle cx="690.4" cy="1221.3" r="3.0" fill="#c9c5c3" stroke="#2e2522" stroke-width="1.2"/>
<line x1="690.6" y1="1209.4" x2="690.6" y2="1303.4" stroke="#2e2522" stroke-width="1.0" />
<path d="M404.7 1201.2 L432.4 1201.2 L435.8 1226.8 L401.3 1226.8 Z" fill="#f2f2f4" stroke="#2e2522" stroke-width="1.3" />
<line x1="404.7" y1="1202.2" x2="432.4" y2="1202.2" stroke="#2e2522" stroke-width="1.4" />
<line x1="404.2" y1="1205.2" x2="432.9" y2="1205.2" stroke="#2e2522" stroke-width="0.9" />
<path d="M417.1 1226.8v1.4a1.5 1.5 0 0 0 3 0v-1.4" fill="none" stroke="#2e2522" stroke-width="0.9" />
<path d="M646.5 1201.2 L674.2 1201.2 L677.6 1226.8 L643.1 1226.8 Z" fill="#f2f2f4" stroke="#2e2522" stroke-width="1.3" />
<line x1="646.5" y1="1202.2" x2="674.2" y2="1202.2" stroke="#2e2522" stroke-width="1.4" />
<line x1="646.0" y1="1205.2" x2="674.7" y2="1205.2" stroke="#2e2522" stroke-width="0.9" />
<path d="M658.9 1226.8v1.4a1.5 1.5 0 0 0 3 0v-1.4" fill="none" stroke="#2e2522" stroke-width="0.9" />
<line x1="388.0" y1="1296.7" x2="690.4" y2="1296.7" stroke="#231815" stroke-width="1.15" />
<polygon points="388.0,1296.7 407.0,1293.7 407.0,1299.7" fill="#231815"/>
<polygon points="448.8,1296.7 429.8,1293.7 429.8,1299.7" fill="#231815"/>
<polygon points="448.8,1296.7 467.8,1293.7 467.8,1299.7" fill="#231815"/>
<polygon points="629.8,1296.7 610.8,1293.7 610.8,1299.7" fill="#231815"/>
<polygon points="629.8,1296.7 648.8,1293.7 648.8,1299.7" fill="#231815"/>
<polygon points="690.4,1296.7 671.4,1293.7 671.4,1299.7" fill="#231815"/>
<text x="405.8" y="1286.7" font-size="23.3" text-anchor="start" fill="#231815" font-weight="400" letter-spacing="1.29">55</text>
<text x="519.0" y="1286.7" font-size="23.3" text-anchor="start" fill="#231815" font-weight="400" letter-spacing="2.65">110</text>
<text x="647.8" y="1286.7" font-size="23.3" text-anchor="start" fill="#231815" font-weight="400" letter-spacing="1.79">55</text>
<defs><clipPath id="cc"><ellipse cx="880.25" cy="1272.75" rx="91.0" ry="88.0"/></clipPath></defs>
<ellipse cx="880.25" cy="1272.75" rx="91.0" ry="88.0" fill="none" stroke="#2e2522" stroke-width="1.1"/>
<g clip-path="url(#cc)">
<path d="M830 1221.6L837.9 1217.0M830 1224.1L837.9 1219.5M830 1226.6L837.9 1222.0M830 1229.1L837.9 1224.5M830 1231.6L837.9 1227.0M830 1234.1L837.9 1229.5M830 1236.6L837.9 1232.0M830 1239.1L837.9 1234.5M830 1241.6L837.9 1237.0M830 1244.1L837.9 1239.5M830 1246.6L837.9 1242.0M830 1249.1L837.9 1244.5M830 1251.6L837.9 1247.0M830 1254.1L837.9 1249.5M830 1256.6L837.9 1252.0M830 1259.1L837.9 1254.5M830 1261.6L837.9 1257.0M830 1264.1L837.9 1259.5M830 1266.6L837.9 1262.0M830 1269.1L837.9 1264.5M830 1271.6L837.9 1267.0M830 1274.1L837.9 1269.5M830 1276.6L837.9 1272.0M830 1279.1L837.9 1274.5M830 1281.6L837.9 1277.0M830 1284.1L837.9 1279.5M830 1286.6L837.9 1282.0M830 1289.1L837.9 1284.5M830 1291.6L837.9 1287.0M830 1294.1L837.9 1289.5M830 1296.6L837.9 1292.0M830 1299.1L837.9 1294.5M830 1301.6L837.9 1297.0M830 1304.1L837.9 1299.5M830 1306.6L837.9 1302.0M830 1309.1L837.9 1304.5M830 1311.6L837.9 1307.0M830 1314.1L837.9 1309.5M830 1316.6L837.9 1312.0M830 1319.1L837.9 1314.5M830 1321.6L837.9 1317.0M830 1324.1L837.9 1319.5M830 1326.6L837.9 1322.0M830 1329.1L837.9 1324.5M830 1331.6L837.9 1327.0M830 1334.1L837.9 1329.5M830 1336.6L837.9 1332.0M830 1339.1L837.9 1334.5M830 1341.6L837.9 1337.0M830 1344.1L837.9 1339.5M830 1346.6L837.9 1342.0M830 1349.1L837.9 1344.5M830 1351.6L837.9 1347.0M830 1354.1L837.9 1349.5M830 1356.6L837.9 1352.0M830 1359.1L837.9 1354.5M830 1361.6L837.9 1357.0M830 1364.1L837.9 1359.5" fill="none" stroke="#3a3330" stroke-width="0.95" />
<line x1="780.0" y1="1216.7" x2="837.9" y2="1216.7" stroke="#3a3330" stroke-width="1.0" />
<line x1="837.7" y1="1180.0" x2="837.7" y2="1365.0" stroke="#3a3330" stroke-width="1.0" />
<line x1="843.8" y1="1299.0" x2="843.8" y2="1365.0" stroke="#3a3330" stroke-width="0.9" />
<line x1="844.2" y1="1261.0" x2="975.0" y2="1261.0" stroke="#3a3330" stroke-width="1.0" />
</g>
<line x1="837.6" y1="1185.0" x2="837.6" y2="1200.0" stroke="#3a3330" stroke-width="0.9" />
<line x1="849.3" y1="1185.0" x2="849.3" y2="1249.5" stroke="#3a3330" stroke-width="0.9" />
<line x1="795.0" y1="1191.2" x2="873.0" y2="1191.2" stroke="#3a3330" stroke-width="0.9" />
<polygon points="837.5,1191.2 825.0,1189.1 825.0,1193.3" fill="#231815"/>
<polygon points="849.3,1191.2 861.8,1189.1 861.8,1193.3" fill="#231815"/>
<text x="798.6" y="1184.6" font-size="20" text-anchor="start" fill="#231815" font-weight="400" letter-spacing="1.24">20</text>
<line x1="802.5" y1="1254.6" x2="838.0" y2="1254.6" stroke="#3a3330" stroke-width="4.6" stroke-linecap="round"/>
<line x1="802.0" y1="1254.6" x2="838.0" y2="1254.6" stroke="#8a8482" stroke-width="1.0" stroke-dasharray="1.6 1.2"/>
<line x1="838.0" y1="1254.6" x2="846.0" y2="1254.6" stroke="#2e2522" stroke-width="2.8" />
<path d="M845.3 1252.4L848.6 1252.6Q850.6 1254.6 848.6 1256.6L845.3 1256.8Z" fill="#2e2522" stroke="#2e2522" stroke-width="0.6" />
<line x1="844.2" y1="1261.0" x2="871.0" y2="1261.0" stroke="#2e2522" stroke-width="1.9" />
<line x1="845.2" y1="1260.2" x2="845.2" y2="1285.8" stroke="#2e2522" stroke-width="2.2" />
<rect x="842.6" y="1277.5" width="2.8" height="8.5" rx="0" fill="#a9a4a2" stroke="#4a4442" stroke-width="0.7"/>
<line x1="845.6" y1="1290.6" x2="839.4" y2="1302.0" stroke="#2e2522" stroke-width="1.7" />
<line x1="845.3" y1="1286.0" x2="845.6" y2="1290.6" stroke="#2e2522" stroke-width="1.2" />
<line x1="838.6" y1="1281.7" x2="839.0" y2="1323.8" stroke="#2e2522" stroke-width="2.5" />
<line x1="853.8" y1="1254.8" x2="873.0" y2="1254.8" stroke="#3a3330" stroke-width="0.9" />
<line x1="867.5" y1="1230.8" x2="867.5" y2="1331.7" stroke="#3a3330" stroke-width="0.9" />
<polygon points="867.5,1254.8 865.0,1242.5 870.0,1242.5" fill="#231815"/>
<polygon points="867.5,1261.0 865.0,1273.0 870.0,1273.0" fill="#231815"/>
<text x="863.8" y="1326.6" font-size="18.7" text-anchor="start" fill="#231815" font-weight="400" letter-spacing="2.1" transform="rotate(-90 863.8 1326.6)">10±2</text>
<text x="829.5" y="1132.5" font-size="28" text-anchor="start" fill="#231815" font-weight="400" letter-spacing="1.1">膨胀管配螺钉</text>
<line x1="915.7" y1="1135.0" x2="840.8" y2="1253.2" stroke="#2e2522" stroke-width="1.0" />
<line x1="970.8" y1="1286.7" x2="1071.2" y2="1186.3" stroke="#2e2522" stroke-width="1.05" />
<rect x="1028.8" y="1151.6" width="33.4" height="231.4" rx="0" fill="none" stroke="#5b5654" stroke-width="0.95"/>
<circle cx="1064.9" cy="1167.1" r="15.8" fill="none" stroke="#5b5654" stroke-width="0.95"/>
<path d="M1150.7 1273.9 L1150.7 1178.8" fill="none" stroke="#5b5654" stroke-width="1.0" />
<line x1="1065.8" y1="1178.8" x2="1151.2" y2="1178.8" stroke="#4a4442" stroke-width="1.3" />
<line x1="1065.8" y1="1273.9" x2="1152.0" y2="1273.9" stroke="#5b5654" stroke-width="0.95" />
<line x1="1065.3" y1="1178.2" x2="1065.3" y2="1349.0" stroke="#2e2522" stroke-width="1.7" />
<line x1="1056.3" y1="1177.1" x2="1066.2" y2="1177.1" stroke="#2e2522" stroke-width="1.3" />
<line x1="1049.3" y1="1198.1" x2="1065.2" y2="1198.1" stroke="#2e2522" stroke-width="2.6" />
<line x1="1065.8" y1="1275.9" x2="1160.8" y2="1275.9" stroke="#5b5654" stroke-width="0.95" />
<line x1="1160.6" y1="1276.0" x2="1092.9" y2="1349.1" stroke="#2e2522" stroke-width="2.0" />
<line x1="1064.9" y1="1349.2" x2="1092.9" y2="1349.2" stroke="#3a3330" stroke-width="1.1" />
<path d="M1064.5 1349.5 L1064.5 1357.9 L1086.5 1357.9 L1092.9 1349.5" fill="none" stroke="#5b5654" stroke-width="0.95" />
<rect x="1062.0" y="1340.8" width="2.5" height="6.2" rx="0" fill="none" stroke="#5b5654" stroke-width="0.7"/>
<path d="M1112.5 1185.4 Q1101 1190 1098.3 1205.4 L1093.3 1205.4 L1101.3 1209.6 L1109.2 1205.8 L1104.6 1205.4 Q1106 1197 1117.5 1192.1 Z" fill="none" stroke="#5b5654" stroke-width="0.9" />
</svg>
</body></html>
